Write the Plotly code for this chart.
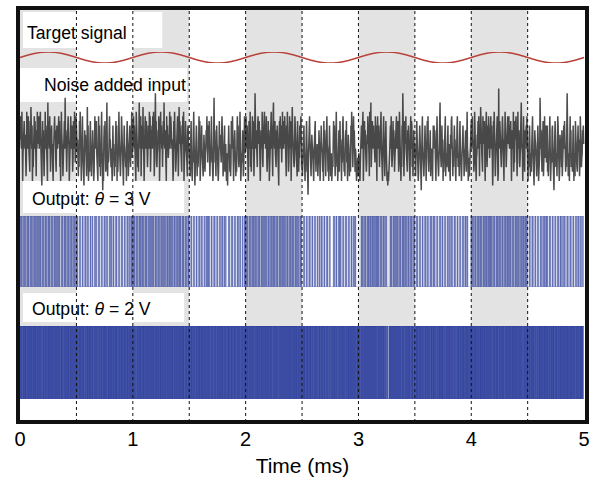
import numpy as np
import plotly.graph_objects as go

# ---------------- data ----------------
x_ticks = [0, 1, 2, 3, 4, 5]
band_starts_ms = [0, 1, 2, 3, 4]           # shaded half-periods (signal high)
band_width_ms = 0.5
divider_ms = [0.5, 1, 1.5, 2, 2.5, 3, 3.5, 4, 4.5]
record_length_ms = 5.0

target_signal = [
    0.00, 0.31, 0.59, 0.81, 0.95, 1.00, 0.95, 0.81, 0.59, 0.31,
    0.00, -0.31, -0.59, -0.81, -0.95, -1.00, -0.95, -0.81, -0.59, -0.31,
    0.00, 0.31, 0.59, 0.81, 0.95, 1.00, 0.95, 0.81, 0.59, 0.31,
    0.00, -0.31, -0.59, -0.81, -0.95, -1.00, -0.95, -0.81, -0.59, -0.31,
    0.00, 0.31, 0.59, 0.81, 0.95, 1.00, 0.95, 0.81, 0.59, 0.31,
    0.00, -0.31, -0.59, -0.81, -0.95, -1.00, -0.95, -0.81, -0.59, -0.31,
    0.00, 0.31, 0.59, 0.81, 0.95, 1.00, 0.95, 0.81, 0.59, 0.31,
    0.00, -0.31, -0.59, -0.81, -0.95, -1.00, -0.95, -0.81, -0.59, -0.31,
    0.00, 0.31, 0.59, 0.81, 0.95, 1.00, 0.95, 0.81, 0.59, 0.31,
    0.00, -0.31, -0.59, -0.81, -0.95, -1.00, -0.95, -0.81, -0.59, -0.31,
    0.00,
]

# noisy input, one letter per sample (level a=lowest .. z=highest)
input_level_codes = (
    "npsmltjekqmrnlohfjtnlpsmkigrmunlqejhomslrnkfpltmnq"
    "slqmtngkdnrlpjfkmtlqoihevmrnlskgjoqlmhekrlsnpjgmqn"
    "lqnsmrhjektomlfkinrlwmpjgkqlsnmeihpsmlqkgjrnltmiks"
    "mqlnjfkhrmtgkeinslhjdkplomkfiulqehkgnrmjfklphkegms"
    "lpnrkgiemslqhkfjptmickenqlrjghmvlfkijosmnkhlgejqlm"
    "jfkhnrlqekgjmtnhkfilspmgjdkqmlihkeornlfjgmqkhpltjn"
    "rmslqniketnplhkgovmrlsfjqnlumkeipsnlrmjhkqmltnsgkp"
    "nqlsmtkfjoxmrihklpnsqejgtmqlnhkrnvmlpgieslqmjkontl"
    "psmqlnjehrltmkginqoslfkumrplhjgqnsmteiklrnmjhfpqlm"
    "kgjfnrlhekiptmjdgklqnfkhimslregjnqlhkfiomjgklpnsli"
    "mqlrjfkinsmgkehlwnpijfkqmlhegkrlojkinspmfhklqgjmie"
    "kjdhnqlmgkfirnlshjekmplifkgoslqjhkmtnegkilpjfhnslk"
    "psmlqnjekrnlthkgomslrqfinxmlpkjhqsnmrlgekpmltjhnqs"
    "tmqlnskgilrnpehkomtlqjfsvmnlrkihplqmgjdnrlsmqkintl"
    "rlpmsnhkfqmtljginslrqekmuplnihjsqnmlkfrnlgkjqmpslh"
    "jfkhmqliekgnrmhkbjlpsngjfkomlihekqnrjgkimlfhkpnjek"
    "lqnmkgierlphjfknsmlgkehqmjfhkegihnrlqkfjmtnhieklpg"
    "mrlnjekiqsmhgkfnplrikejomlfkhgqntjkhlsmpiglkgeihjf"
    "hkgjeiknqlsmtehkrmpljgiomslqkftnlvhjmrlpqnmkislqne"
    "psmlqjhkrntmgielqsnkfjmrlfegdfejgknqlsmhikrlpmgjlq"
    "nslqmrkgitmplejhqnxlmfkromslihgplqnkjemslrqhkfnplm"
    "kjfhnrlmiegkpqnhkcjmslgjfinqmlekhrlsjgkimpfhlikenq"
    "lqmphjeknslgkfirmvljhkqlneigkpmsfkjhnlqigmkjeolrsn"
    "jfkhmqlngekjpsmhikfnrljgeiomqlkfhlnpigmtlkegjfhikn"
    "rlqsmnkgitplmejkonrlshfqmulnkigsmpqrjelntmhkqlsnmj"
    "npslqmjdhrntlkfimqoslegylnrmkjhqlspigenmtlqhkrnsmp"
    "smlqnrhekplmtgjirnqslkfmtlnpihjqnvmlkersljgpnmqlsk"
    "jekhnqlfkigmrslhjdkpnmgkfilqnehjkwmlpigknrfhlsjkmq"
    "ilqgkfjnmslehkipqljgckmrnhikflsqmjegonlkhpfijmqlrn"
    "kgjhnxqlfikemslphkjgnqmeikfrlojhgmqlnkfismlhjkpnqm"
)
level_offset_V = 1.1
level_step_V = 0.18

thresholds_V = [3, 2]
labels = ["Target signal", "Noise added input",
          "Output: <i>θ</i> = 3 V", "Output: <i>θ</i> = 2 V"]

# ---------------- derived ----------------
codes = np.array([ord(c) - ord("a") for c in input_level_codes])
inp = level_offset_V + level_step_V * codes
t_input = np.arange(len(inp)) * (record_length_ms / len(inp))
t_target = np.arange(len(target_signal)) * (record_length_ms / (len(target_signal) - 1))
out3 = (inp > thresholds_V[0]).astype(int)
out2 = (inp > thresholds_V[1]).astype(int)

# ---------------- layout helpers ----------------
W, H = 596, 487
L, R, T, B = 18, 6, 8, 65
PH = H - T - B
PW = W - L - R


def py(px):  # pixel y -> paper
    return (H - B - px) / PH


def pxx(px):  # pixel x -> paper
    return (px - L) / PW


FONT = "Liberation Sans, Arial, Helvetica, sans-serif"
blue = "#2a3d9a"

fig = go.Figure()

fig.add_trace(go.Scatter(x=t_input, y=out2, mode="lines", line_shape="hv",
                         line=dict(color=blue, width=0.6), fill="tozeroy",
                         fillcolor="rgba(42,61,154,0.92)", yaxis="y",
                         hoverinfo="skip", showlegend=False))
fig.add_trace(go.Scatter(x=t_input, y=out3, mode="lines", line_shape="hv",
                         line=dict(color="rgba(42,61,154,0.8)", width=0.5), fill="tozeroy",
                         fillcolor="rgba(50,68,158,0.68)", yaxis="y2",
                         hoverinfo="skip", showlegend=False))
fig.add_trace(go.Scatter(x=t_input, y=inp, mode="lines",
                         line=dict(color="rgba(38,38,38,0.82)", width=1.5),
                         yaxis="y3", hoverinfo="skip", showlegend=False))
fig.add_trace(go.Scatter(x=t_target, y=target_signal, mode="lines",
                         line=dict(color="#b8423a", width=1.5, shape="spline"),
                         yaxis="y4", hoverinfo="skip", showlegend=False))

shapes = []
for s in band_starts_ms:
    shapes.append(dict(type="rect", xref="x", yref="paper", x0=s, x1=s + band_width_ms,
                       y0=py(326), y1=1, fillcolor="#e3e3e3", line_width=0, layer="below"))
boxes = [(23, 163, 12, 48), (20, 188, 68, 102), (23, 185, 181, 213), (23, 185, 293, 322)]
for x0, x1, y0, y1 in boxes:
    shapes.append(dict(type="rect", xref="paper", yref="paper", x0=pxx(x0), x1=pxx(x1),
                       y0=py(y1), y1=py(y0), fillcolor="white", line_width=0, layer="below"))
for d in divider_ms:
    shapes.append(dict(type="line", xref="x", yref="paper", x0=d, x1=d, y0=0, y1=1,
                       line=dict(color="#111", width=1, dash="dot"), layer="above"))
shapes.append(dict(type="rect", xref="paper", yref="paper", x0=0, x1=1, y0=0, y1=1,
                   line=dict(color="#111", width=4), layer="above"))

label_pos = [(25, 33), (42, 85), (30, 199), (30, 309)]
annotations = []
for txt, (lx, ly) in zip(labels, label_pos):
    annotations.append(dict(text=txt, xref="paper", yref="paper", x=pxx(lx), y=py(ly),
                            xanchor="left", yanchor="middle", showarrow=False,
                            font=dict(size=17.6, color="black", family=FONT)))

hidden = dict(visible=False, showgrid=False, zeroline=False, fixedrange=True)
fig.update_layout(
    width=W, height=H,
    margin=dict(l=L, r=R, t=T, b=B),
    paper_bgcolor="white", plot_bgcolor="white",
    font=dict(family=FONT, color="black"),
    xaxis=dict(range=[-0.018, 5.026], tickvals=x_ticks, ticks="", showgrid=False,
               zeroline=False, showline=False, tickfont=dict(size=20),
               anchor="free", position=0, ticklabelstandoff=3,
               title=dict(text="Time (ms)", font=dict(size=21), standoff=9)),
    yaxis=dict(domain=[py(399), py(326)], range=[0, 1], **hidden),
    yaxis2=dict(domain=[py(287), py(216)], range=[0, 1], **hidden),
    yaxis3=dict(domain=[py(202), py(84)], range=[1.0, 5.6], **hidden),
    yaxis4=dict(domain=[py(63), py(52)], range=[-1, 1], **hidden),
    shapes=shapes, annotations=annotations,
)

fig.write_html("out.html")
